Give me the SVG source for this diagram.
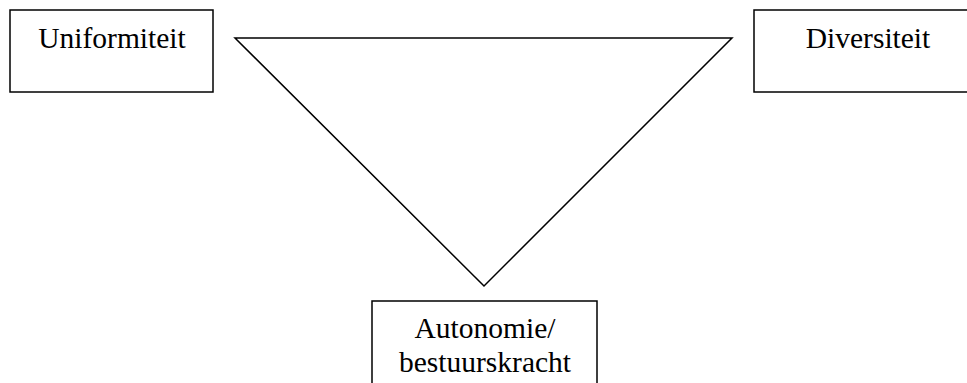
<svg xmlns="http://www.w3.org/2000/svg" width="967" height="383" viewBox="0 0 967 383">
<style>
.box{fill:#fff;stroke:#000;stroke-width:1.5}
.t{font-family:"Liberation Serif","Times New Roman",serif;font-size:29.5px;fill:#000;text-anchor:middle}
.ln{fill:none;stroke:#000;stroke-width:1.5}
</style>
<rect width="967" height="383" fill="#fff"/>
<g id="connectors">
<path class="ln" d="M235 38 L732 38 L484 286 Z"/>
</g>
<g id="uniformiteit">
<rect class="box" x="10" y="10" width="203" height="82"/>
<text class="t" x="112" y="48">Uniformiteit</text>
</g>
<g id="diversiteit">
<rect class="box" x="754" y="10" width="220" height="82"/>
<text class="t" x="868" y="48">Diversiteit</text>
</g>
<g id="autonomie">
<path class="ln" d="M372 384 L372 301 L597 301 L597 384"/>
<text class="t" x="485" y="338">Autonomie/</text>
<text class="t" x="485" y="372">bestuurskracht</text>
</g>
</svg>
